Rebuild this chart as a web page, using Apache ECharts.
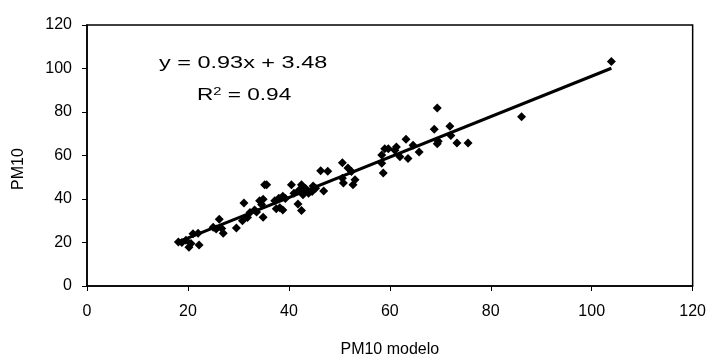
<!DOCTYPE html>
<html>
<head>
<meta charset="utf-8">
<script src="https://cdn.jsdelivr.net/npm/echarts@6/dist/echarts.min.js"></script>
<style>html,body{margin:0;padding:0;background:#fff}#c{width:709px;height:363px}</style>
</head>
<body>
<div id="c"></div>
<script>
var pm10Modelo = [18.1,18.8,19.6,20.2,20.6,21.0,22.0,22.2,25.0,25.6,26.2,26.7,27.0,29.6,30.8,31.1,31.8,32.3,33.2,33.6,34.2,34.6,34.9,35.2,35.6,34.9,37.2,37.5,38.0,38.2,38.8,39.3,38.8,40.5,41.0,41.8,42.0,42.5,42.5,42.8,43.3,43.9,44.8,44.6,45.3,46.9,46.3,47.7,50.6,50.8,50.6,51.7,52.4,52.7,53.1,58.4,58.7,58.4,59.0,59.7,61.3,61.0,62.0,63.2,63.6,64.6,65.8,68.8,69.4,69.4,69.6,71.9,72.1,73.3,75.5,86.1,103.9];
var pm10Obs = [20.2,20.0,21.0,17.8,19.5,24.0,24.2,18.8,27.0,26.2,30.7,26.4,24.2,26.7,30.0,38.2,31.5,33.8,35.0,34.0,39.2,37.5,31.6,46.5,46.5,39.9,39.2,35.5,40.4,36.0,41.3,40.2,35.0,46.5,42.7,37.7,44.0,46.5,34.7,42.0,44.8,42.7,46.0,43.5,45.0,43.7,53.0,52.8,56.7,47.4,49.5,54.2,52.7,46.6,48.8,60.2,51.9,56.4,63.1,63.1,63.9,62.4,59.4,67.5,58.6,64.7,61.6,72.1,81.8,65.4,66.5,73.4,69.2,65.7,65.7,77.8,103.2];
var trendSlope = 0.93, trendIntercept = 3.48;
var trendX = [18.1, 103.9];
var xTicks = [0,20,40,60,80,100,120];
var yTicks = [0,20,40,60,80,100,120];

var points = pm10Modelo.map(function(x,i){return [x, pm10Obs[i]];});
var trend = trendX.map(function(x){return [x, trendSlope*x + trendIntercept];});
var FONT = '"Liberation Sans", Arial, sans-serif';

var chart = echarts.init(document.getElementById('c'), null, {renderer:'canvas'});
chart.setOption({
  animation:false,
  backgroundColor:'#fff',
  grid:{left:87, right:16, top:25, bottom:71, show:true, borderColor:'#000', borderWidth:1.5, backgroundColor:'transparent'},
  xAxis:{type:'value', min:xTicks[0], max:xTicks[xTicks.length-1], interval:20,
    name:'PM10 modelo', nameLocation:'middle', nameGap:56,
    nameTextStyle:{fontFamily:FONT, fontSize:16, color:'#000'},
    axisLine:{show:true, lineStyle:{color:'#000', width:1.5}},
    axisTick:{show:true, length:5, lineStyle:{color:'#000'}},
    axisLabel:{fontFamily:FONT, fontSize:16, color:'#000', margin:18},
    splitLine:{show:false}},
  yAxis:{type:'value', min:yTicks[0], max:yTicks[yTicks.length-1], interval:20,
    axisLine:{show:true, lineStyle:{color:'#000', width:1.5}},
    axisTick:{show:true, length:5, lineStyle:{color:'#000'}},
    axisLabel:{fontFamily:FONT, fontSize:16, color:'#000', margin:15},
    splitLine:{show:false}},
  graphic:[
    {type:'text', x:19, y:169, rotation:Math.PI/2, style:{text:'PM10', fontFamily:FONT, fontSize:16, fill:'#000', textAlign:'center', textVerticalAlign:'middle'}},
    {type:'text', x:159, y:55, scaleX:1.38, style:{text:'y = 0.93x + 3.48', fontFamily:FONT, fontSize:17, fill:'#000'}},
    {type:'text', x:197, y:86, scaleX:1.33, style:{rich:{b:{fontFamily:FONT, fontSize:17, fill:'#000'}, s:{fontFamily:FONT, fontSize:11, fill:'#000', verticalAlign:'top', padding:[0,0,8,0]}}, text:'{b|R}{s|2}{b| = 0.94}'}}
  ],
  series:[
    {type:'line', data:trend, showSymbol:false, symbol:'none', lineStyle:{color:'#000', width:3}, z:2},
    {type:'scatter', data:points, symbol:'diamond', symbolSize:9, itemStyle:{color:'#000', opacity:1}, z:3}
  ]
});
</script>
</body>
</html>
